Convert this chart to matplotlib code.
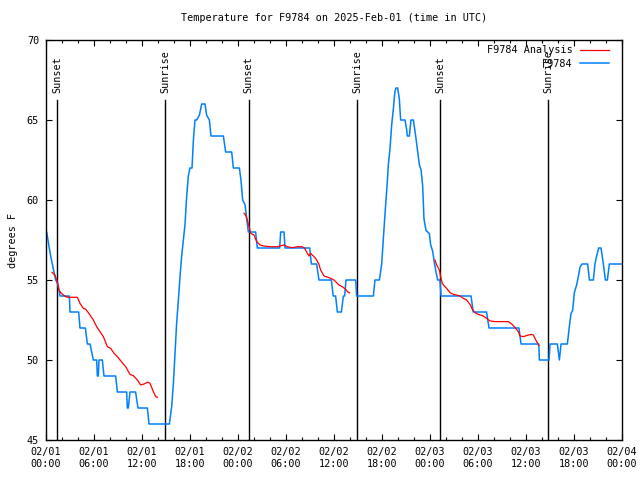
import matplotlib
matplotlib.use("Agg")
import matplotlib.pyplot as plt
import numpy as np

plt.rcParams['font.family'] = ['DejaVu Sans Mono']
FS = 7.3

title = "Temperature for F9784 on 2025-Feb-01 (time in UTC)"
ylabel = "degrees F"

# hours since 2025-02-01 00:00 UTC
obs_hours = [0.0, 0.08, 0.25, 0.42, 0.58, 0.79, 1.0, 1.21, 1.42, 1.62, 1.75, 2.92, 3.0, 4.08, 4.25,
             4.92, 5.17, 5.5, 5.71, 5.92, 6.33, 6.42, 6.54, 6.62, 7.04, 7.25, 8.71, 8.92, 10.08,
             10.17, 10.29, 10.5, 11.2, 11.5, 12.67, 12.88, 15.42,
             15.71, 15.92, 16.12, 16.33, 16.54, 16.75, 16.96, 17.17, 17.38, 17.58, 17.79, 18.0,
             18.25, 18.42, 18.62, 18.83, 19.17, 19.46, 19.88, 20.08, 20.42, 20.62, 22.17, 22.46,
             23.21, 23.42, 24.17, 24.38, 24.58, 24.88, 25.17, 25.29, 26.2, 26.42, 29.21, 29.33,
             29.75, 29.88, 32.96, 33.17, 33.83, 34.12, 35.67, 35.9, 36.2, 36.42, 36.92, 37.17,
             37.33, 37.5, 38.71, 38.83, 40.92, 41.12, 41.67, 41.96, 42.17, 42.33, 42.5, 42.67,
             42.79, 43.0, 43.21, 43.42, 43.62, 43.75, 43.96, 44.17, 44.33, 44.88, 45.08, 45.17,
             45.42, 45.62, 45.92, 46.21, 46.46, 46.67, 46.88, 47.08, 47.25, 47.5, 47.92, 48.08,
             48.33, 48.54, 48.75, 48.96, 49.25, 49.38, 53.13, 53.4, 55.07, 55.38, 59.12, 59.38,
             61.6, 61.67, 62.88, 63.0, 63.92, 64.17, 64.38, 65.17, 65.42, 65.62, 65.83, 66.04,
             66.33, 66.54, 66.75, 67.0, 67.71, 67.92, 68.42, 68.62, 68.83, 69.08, 69.38, 69.67,
             69.92, 70.17, 70.42, 72.0]
obs_temps = [58, 58, 57.5, 57, 56.5, 56, 55.5, 55, 54.8, 54.4, 54, 54, 53, 53, 52,
             52, 51, 51, 50.5, 50, 50, 49, 49, 50, 50, 49, 49, 48, 48,
             47, 47, 48, 48, 47, 47, 46, 46,
             47.1, 48.5, 50.4, 52.3, 53.7, 55.2, 56.5, 57.5, 58.5, 60.2, 61.5, 62,
             62, 63.7, 65, 65, 65.3, 66, 66, 65.3, 65, 64, 64, 63,
             63, 62, 62, 61.2, 60, 59.7, 58.5, 58, 58, 57, 57, 58,
             58, 57, 57, 56, 56, 55, 55, 54, 54, 53, 53, 54,
             54, 55, 55, 54, 54, 55, 55, 56, 57.6, 58.8, 60, 61.2,
             62.2, 63.2, 64.7, 65.7, 66.8, 67, 67, 66.3, 65, 65, 64.4, 64,
             64, 65, 65, 64, 63, 62.2, 61.9, 60.9, 58.8, 58.1, 57.9, 57.2,
             56.8, 56.1, 55.5, 55, 55, 54, 54, 53, 53, 52, 52, 51,
             51, 50, 50, 51, 51, 50, 51, 51, 52.1, 52.9, 53.1, 54.2,
             54.7, 55.2, 55.8, 56, 56, 55, 55, 56, 56.5, 57, 57, 56,
             55, 55, 56, 56]

ana_hours = [0.75, 1.12, 1.42, 1.62, 1.83, 2.33, 2.67, 3.92, 4.25, 4.67, 4.96, 5.38, 5.92, 6.33,
             6.75, 7.17, 7.67, 8.08, 8.5, 8.92, 9.42, 9.96, 10.5, 10.92, 11.42, 11.83, 12.25,
             12.75, 13.0, 13.42, 13.71, 13.92,
             np.nan,
             24.75, 24.96, 25.17, 25.38, 25.58, 26.0, 26.33, 26.75, 27.25, 28.08, 28.92, 29.75,
             30.17, 30.79, 31.42, 32.04, 32.33, 32.67, 32.88, 33.08, 33.71, 34.12, 34.33, 34.75,
             35.38, 36.0, 36.62, 37.04, 37.46, 37.67, 37.95,
             np.nan,
             48.62, 48.83, 49.17, 49.38, 49.54, 49.79, 50.08, 50.5, 50.92, 51.33, 51.75, 52.17,
             52.58, 53.0, 53.29, 53.62, 54.04, 54.67, 55.08, 55.5, 56.12, 56.96, 57.79, 58.21,
             58.62, 59.04, 59.25, 59.67, 60.29, 60.71, 60.92, 61.12, 61.46, 61.6]
ana_temps = [55.48, 55.31, 54.9, 54.38, 54.21, 54.0, 53.92, 53.92, 53.54, 53.23, 53.17, 52.9,
             52.5, 52.08, 51.77, 51.46, 50.83, 50.73, 50.42, 50.21, 49.9, 49.58, 49.1, 49.02,
             48.75, 48.44, 48.5, 48.62, 48.54, 48.02, 47.71, 47.67,
             np.nan,
             59.17, 59.06, 58.75, 58.33, 57.92, 57.81, 57.4, 57.19, 57.12, 57.08, 57.08, 57.19,
             57.08, 57.02, 57.08, 57.08, 56.98, 56.67, 56.5, 56.67, 56.35, 55.98, 55.62, 55.25,
             55.15, 55.0, 54.69, 54.58, 54.42, 54.27, 54.2,
             np.nan,
             56.25, 55.94, 55.62, 55.1, 54.79, 54.62, 54.48, 54.21, 54.1, 54.06, 54.0, 53.85,
             53.75, 53.48, 53.17, 52.96, 52.85, 52.75, 52.6, 52.44, 52.4, 52.4, 52.4, 52.25,
             52.04, 51.77, 51.5, 51.46, 51.56, 51.6, 51.56, 51.35, 51.04, 50.9]

sun_hours = [1.42, 14.92, 25.32, 38.92, 49.29, 62.8]
sun_labels = ["Sunset", "Sunrise", "Sunset", "Sunrise", "Sunset", "Sunrise"]

xtick_hours = [0, 6, 12, 18, 24, 30, 36, 42, 48, 54, 60, 66, 72]
xtick_labels = ["02/01\n00:00", "02/01\n06:00", "02/01\n12:00", "02/01\n18:00",
                "02/02\n00:00", "02/02\n06:00", "02/02\n12:00", "02/02\n18:00",
                "02/03\n00:00", "02/03\n06:00", "02/03\n12:00", "02/03\n18:00",
                "02/04\n00:00"]
ytick_vals = [45, 50, 55, 60, 65, 70]

fig = plt.figure(figsize=(6.4, 4.8), dpi=100)
ax = fig.add_axes([46/640, 40/480, 576/640, 400/480])

for h, lab in zip(sun_hours, sun_labels):
    ax.plot([h, h], [45, 66.25], color='black', lw=1.0, zorder=1)
    ax.text(h, 66.7, lab, rotation=90, ha='center', va='bottom', fontsize=FS, zorder=1)

ax.plot(obs_hours, obs_temps, color='#0080ff', lw=1.1, label='F9784', zorder=2)
ax.plot(ana_hours, ana_temps, color='#ff0000', lw=0.9, label='F9784 Analysis', zorder=3)

ax.set_xlim(0, 72)
ax.set_ylim(45, 70)
ax.set_xticks(xtick_hours)
ax.set_xticklabels(xtick_labels, fontsize=FS)
ax.set_xticks(np.arange(0, 73, 2), minor=True)
ax.set_yticks(ytick_vals)
ax.set_yticklabels([str(v) for v in ytick_vals], fontsize=FS)
ax.tick_params(which='both', direction='in', top=True, right=True, width=0.8)
ax.tick_params(which='major', length=4.5, pad=5)
ax.tick_params(which='minor', length=2.5)
for s in ax.spines.values():
    s.set_linewidth(1.0)

ax.set_title(title, fontsize=FS, pad=14)
ax.set_ylabel(ylabel, fontsize=FS, labelpad=6)

handles, labels = ax.get_legend_handles_labels()
order = [1, 0]
ax.legend([handles[i] for i in order], [labels[i] for i in order], loc='upper right',
          bbox_to_anchor=(1 - 8/576, 1.0),
          frameon=False, markerfirst=False, fontsize=FS, handlelength=2.9,
          handletextpad=0.7, labelspacing=0.35, borderaxespad=0.3, borderpad=0.2)

fig.savefig("out.png", dpi=100)
